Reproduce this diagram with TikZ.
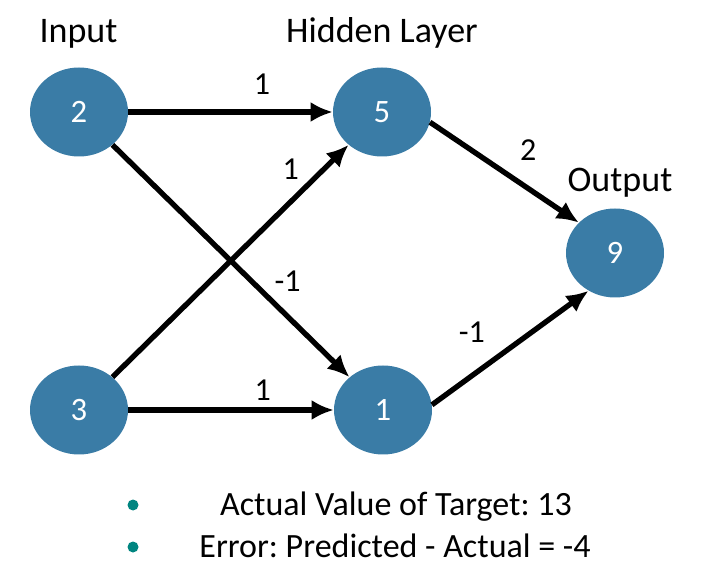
\documentclass[tikz,border=0pt]{standalone}
\usepackage{fontspec}
\setmainfont{Carlito}
\frenchspacing
\usetikzlibrary{arrows.meta,shapes.geometric,positioning}
\definecolor{neuronblue}{RGB}{58,124,166}
\definecolor{bulletteal}{RGB}{0,133,128}

\begin{document}
\begin{tikzpicture}[x=0.75pt, y=-0.75pt, >={Latex[length=16.5pt,width=15pt]},
    neuron/.style={ellipse, fill=neuronblue, minimum width=73.5pt, minimum height=66.75pt,
      inner sep=0pt, text=white, font=\fontsize{24.5}{27}\selectfont},
    layer/.style={anchor=base, font=\fontsize{27}{30}\selectfont},
    weight/.style={inner sep=0pt, font=\fontsize{24}{27}\selectfont},
    note/.style={anchor=base, font=\fontsize{25.5}{28}\selectfont},
    dot/.style={circle, fill=bulletteal, minimum size=8.25pt, inner sep=0pt}]
    \useasboundingbox (0,0) rectangle (710,580);

    % layer titles
    \node [layer] (tin) at (78.5,43) {Input};
    \node [layer] (thid) at (382,43) {Hidden Layer};
    \node [layer] (tout) at (620,192) {Output};

    % neurons
    \node [neuron] (in2) at (79,112) {2};
    \node [neuron] (in3) at (79,410) {3};
    \node [neuron] (hid5) at (382,112) {5};
    \node [neuron] (hid1) at (383,410) {1};
    \node [neuron] (out9) at (615,253) {9};

    % weighted connections
    \draw [->, line width=4pt] (in2) -- node [weight, pos=0.654, yshift=21pt] {1} (hid5);
    \draw [->, line width=4pt] (in2) -- node [weight, pos=0.587, xshift=27pt] {-1} (hid1);
    \draw [->, line width=4pt] (in3) -- node [weight, pos=0.895, xshift=-24.75pt] {1} (hid5);
    \draw [->, line width=4pt] (in3) -- node [weight, pos=0.654, yshift=15pt] {1} (hid1);
    \draw [->, line width=4pt] (hid5.-12) -- node [weight, pos=0.66, yshift=28.5pt] {2} (out9.140);
    \draw [->, line width=4pt] (hid1.6) -- node [weight, pos=0.255, yshift=33pt] {-1} (out9.235);

    % notes below
    \node [dot] (b1) at (133,505) {};
    \node [dot] (b2) at (133,547) {};
    \node [note] (target) at (396,515) {Actual Value of Target: 13};
    \node [note] (error) at (395,557) {Error: Predicted - Actual = -4};
\end{tikzpicture}
\end{document}
